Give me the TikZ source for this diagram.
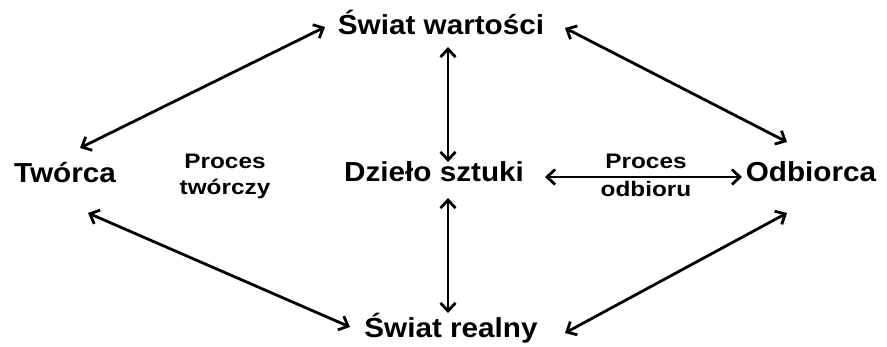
\documentclass[tikz,border=0pt]{standalone}
\usepackage{fontspec}
\setmainfont{Liberation Sans}
\usetikzlibrary{arrows.meta,calc}
\newcommand{\bigtxt}[1]{\scalebox{1.08}[1]{#1}}
\newcommand{\smalltxt}[1]{\scalebox{1.16}[1]{#1}}
\begin{document}
\begin{tikzpicture}[x=1pt,y=-1pt,
  big/.style={inner sep=0pt,anchor=base,font=\fontsize{27.5}{30}\selectfont\bfseries},
  small/.style={inner sep=0pt,anchor=base,font=\fontsize{21}{26}\selectfont\bfseries,align=center},
  link/.style={line width=2.8pt,{Straight Barb[length=8pt,width=15pt]}-{Straight Barb[length=8pt,width=15pt]}}]
\useasboundingbox[fill=white] (0,0) rectangle (887,347);
\node[big] (wart) at (441,35) {\bigtxt{Świat wartości}};
\node[big] (tworca) at (65,183) {\bigtxt{Twórca}};
\node[big] (dzielo) at (434,182) {\bigtxt{Dzieło sztuki}};
\node[big] (odb) at (811,182) {\bigtxt{Odbiorca}};
\node[big] (realny) at (451,338) {\bigtxt{Świat realny}};
\node[small] (ptw) at (225,195) {\smalltxt{Proces}\\\smalltxt{twórczy}};
\node[small] (pod) at (646,197) {\smalltxt{Proces}\\[2pt]\smalltxt{odbioru}};
\draw[link] ($(wart.base)+(-116,-8)$) -- ($(tworca.base)+(15,-35)$);
\draw[link] ($(wart.base)+(124,-7)$) -- ($(odb.base)+(-24,-40)$);
\draw[link] ($(tworca.base)+(23,30)$) -- ($(realny.base)+(-101,-11)$);
\draw[link] ($(odb.base)+(-24,31)$) -- ($(realny.base)+(114,-5)$);
\draw[link] ($(wart.base)+(7,12)$) -- ($(dzielo.base)+(14,-20)$);
\draw[link] ($(dzielo.base)+(14,16)$) -- ($(realny.base)+(-3,-25)$);
\draw[link] ($(dzielo.base)+(111,-5)$) -- ($(odb.base)+(-69,-5)$);
\end{tikzpicture}
\end{document}
